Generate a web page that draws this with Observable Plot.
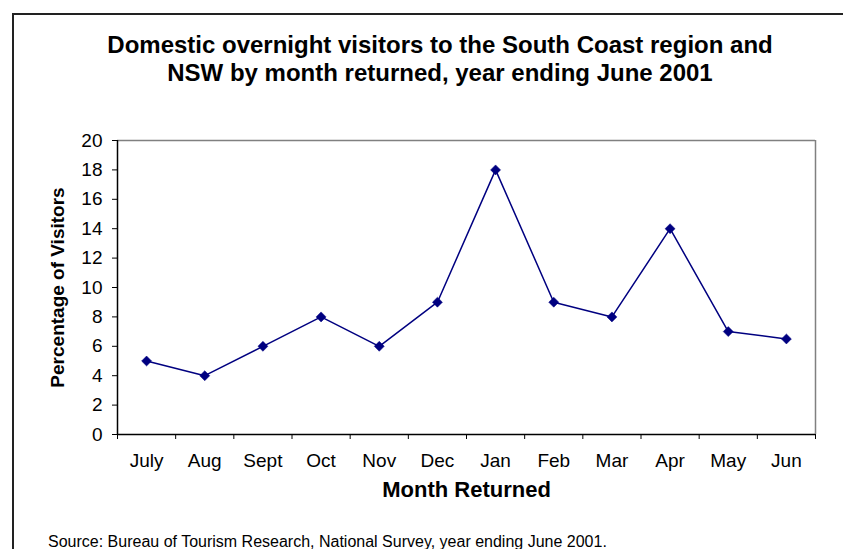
<!DOCTYPE html>
<html>
<head>
<meta charset="utf-8">
<script src="https://cdn.jsdelivr.net/npm/d3@7"></script>
<script src="https://cdn.jsdelivr.net/npm/@observablehq/plot@0.6"></script>
<style>
  html, body { margin: 0; padding: 0; background: #fff; }
  #wrap { position: relative; width: 843px; height: 549px; overflow: hidden; font-family: Arial, "Liberation Sans", sans-serif; }
  #wrap svg { position: absolute; left: 0; top: 0; }
  .frame { position: absolute; left: 12px; top: 13px; width: 900px; height: 600px; border-left: 2px solid #222; border-top: 2px solid #222; box-sizing: border-box; }
  .title { position: absolute; left: 0; width: 880px; top: 31px; text-align: center; font-weight: bold; font-size: 24px; line-height: 28px; color: #000; }
  .source { position: absolute; left: 48px; top: 533px; font-size: 16px; color: #000; white-space: nowrap; }
</style>
</head>
<body>
<div id="wrap">
  <div class="frame"></div>
  <div class="title">Domestic overnight visitors to the South Coast region and<br>NSW by month returned, year ending June 2001</div>
  <div class="source">Source: Bureau of Tourism Research, National Survey, year ending June 2001.</div>
</div>
<script>
const months = ["July","Aug","Sept","Oct","Nov","Dec","Jan","Feb","Mar","Apr","May","Jun"];
const visitors = [5, 4, 6, 8, 6, 9, 18, 9, 8, 14, 7, 6.5];
const yTicks = [0, 2, 4, 6, 8, 10, 12, 14, 16, 18, 20];
const title = "Domestic overnight visitors to the South Coast region and NSW by month returned, year ending June 2001";
const xLabel = "Month Returned";
const yLabel = "Percentage of Visitors";

const data = months.map((m, i) => ({i, month: m, value: visitors[i]}));
const idx = months.map((m, i) => i);
const bounds = d3.range(months.length + 1).map(i => i - 0.5);

const chart = Plot.plot({
  width: 843,
  height: 549,
  marginLeft: 117,
  marginRight: 28,
  marginTop: 140,
  marginBottom: 115,
  style: {fontFamily: "Arial, 'Liberation Sans', sans-serif", fontSize: "19px", color: "#000", background: "transparent"},
  x: {type: "linear", domain: [-0.5, months.length - 0.5]},
  y: {domain: [0, 20]},
  marks: [
    Plot.ruleY([20], {stroke: "#808080", strokeWidth: 1.5}),
    Plot.ruleX([months.length - 0.5], {stroke: "#808080", strokeWidth: 1.5}),
    Plot.axisY({ticks: yTicks, tickSize: 5, tickPadding: 10, fontSize: 19, label: null, stroke: "#000"}),
    Plot.axisX({ticks: bounds, tickSize: 5, tickFormat: () => "", label: null}),
    Plot.axisX({ticks: idx, tickSize: 0, tickPadding: 19, tickFormat: i => months[i], fontSize: 19, label: null}),
    Plot.text([xLabel], {frameAnchor: "bottom", dy: 62, fontSize: 22, fontWeight: "bold", fill: "#000"}),
    Plot.text([yLabel], {frameAnchor: "left", dx: -60, rotate: -90, textAnchor: "middle", fontSize: 19, fontWeight: "bold", fill: "#000"}),
    Plot.ruleY([0], {stroke: "#000", strokeWidth: 1.5}),
    Plot.ruleX([-0.5], {stroke: "#000", strokeWidth: 1.5}),
    Plot.line(data, {x: "i", y: "value", stroke: "#000080", strokeWidth: 1.5}),
    Plot.dot(data, {x: "i", y: "value", symbol: "diamond2", r: 4.5, fill: "#000080", stroke: "#000080", strokeWidth: 0.5})
  ]
});
chart.setAttribute("aria-label", title);
document.getElementById("wrap").appendChild(chart);
</script>
</body>
</html>
